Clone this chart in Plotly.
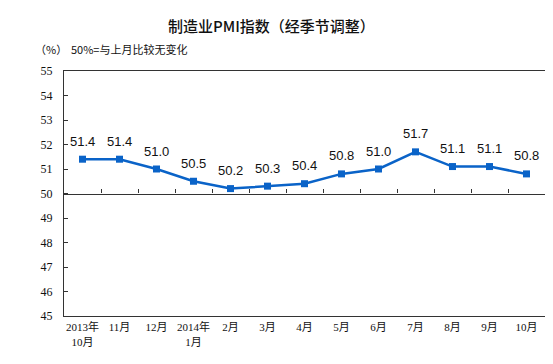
import plotly.graph_objects as go

categories = ["2013年<br>10月", "11月", "12月", "2014年<br>1月", "2月", "3月", "4月",
              "5月", "6月", "7月", "8月", "9月", "10月"]
pmi = [51.4, 51.4, 51.0, 50.5, 50.2, 50.3, 50.4, 50.8, 51.0, 51.7, 51.1, 51.1, 50.8]
y_ticks = list(range(45, 56))

idx = list(range(len(categories)))
blue = "#0A63C8"
serif = "Liberation Serif, Times New Roman, Noto Sans CJK SC, serif"

fig = go.Figure()
fig.add_trace(go.Scatter(
    x=idx, y=pmi, mode="lines+markers",
    line=dict(color=blue, width=2.5),
    marker=dict(symbol="square", size=7, color=blue),
    hoverinfo="skip", showlegend=False))
# invisible trace for the inner category-boundary axis
fig.add_trace(go.Scatter(x=[idx[0]], y=[50], xaxis="x2", mode="markers",
                         marker=dict(opacity=0), hoverinfo="skip", showlegend=False))

for i, v in zip(idx, pmi):
    fig.add_annotation(x=i, y=v, text=f"{v:.1f}", showarrow=False, yshift=18,
                       font=dict(family="Liberation Sans, Arial, sans-serif", size=13, color="#111"))

# page body has an 8px margin, so the figure is 8px smaller and offset
fig.update_layout(
    width=545, height=356,
    margin=dict(l=56, r=8, t=63, b=48, autoexpand=False),
    paper_bgcolor="white", plot_bgcolor="white",
    xaxis=dict(range=[-0.5, len(idx) - 0.5], tickvals=idx, ticktext=categories,
               showgrid=False, zeroline=False, showline=True, linecolor="#333",
               linewidth=1.2, mirror=True, ticks="", ticklabelstandoff=1,
               automargin=False,
               tickfont=dict(family=serif, size=11, color="#111")),
    xaxis2=dict(overlaying="x", anchor="free", position=0.5, side="bottom",
                range=[-0.5, len(idx) - 0.5], automargin=False,
                tickvals=[i + 0.5 for i in idx[:-1]], showticklabels=False,
                ticks="inside", ticklen=4, tickcolor="#333",
                showline=True, linecolor="#333", linewidth=1.2,
                showgrid=False, zeroline=False),
    yaxis=dict(range=[45, 55], tickvals=y_ticks, showgrid=False, zeroline=False,
               showline=True, linecolor="#333", linewidth=1.2, mirror=True,
               ticks="inside", ticklen=4, tickcolor="#333", ticklabelstandoff=8,
               automargin=False,
               tickfont=dict(family=serif, size=12, color="#111")),
)

fig.add_annotation(text="制造业PMI指数（经季节调整）", xref="paper", yref="paper",
                   x=0.432, y=1, yshift=46, yanchor="middle", showarrow=False,
                   xanchor="center",
                   font=dict(family="Noto Sans CJK SC", size=15, color="#111", weight=500))
fig.add_annotation(text="（%）", xref="paper", yref="paper", x=0, xshift=-31,
                   y=1, yshift=22, yanchor="middle", showarrow=False, xanchor="left",
                   font=dict(family="Noto Sans CJK SC", size=11, color="#111"))
fig.add_annotation(text="50%=与上月比较无变化", xref="paper", yref="paper", x=0,
                   xshift=5, y=1, yshift=22, yanchor="middle", showarrow=False,
                   xanchor="left",
                   font=dict(family="Noto Sans CJK SC", size=11, color="#111"))

fig.write_html("out.html")
